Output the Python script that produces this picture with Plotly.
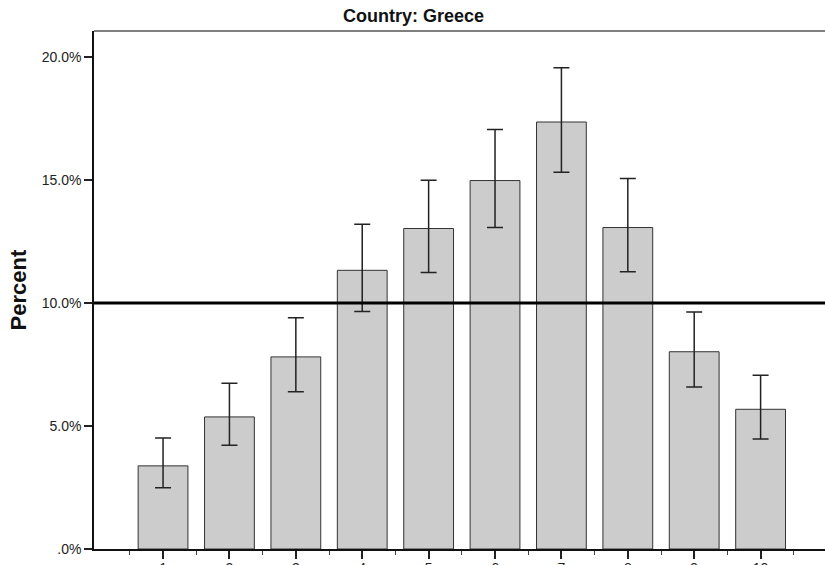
import plotly.graph_objects as go

# Share of respondents per scale point (1-10), with 95% confidence limits
categories = [1, 2, 3, 4, 5, 6, 7, 8, 9, 10]
percent = [3.38, 5.37, 7.81, 11.33, 13.03, 14.98, 17.36, 13.07, 8.02, 5.68]
ci_upper = [4.51, 6.74, 9.40, 13.20, 14.99, 17.06, 19.57, 15.06, 9.64, 7.06]
ci_lower = [2.49, 4.22, 6.39, 9.66, 11.24, 13.07, 15.32, 11.27, 6.59, 4.47]
reference_level = 10.0

y_ticks = [0, 5, 10, 15, 20]
y_tick_labels = [".0%", "5.0%", "10.0%", "15.0%", "20.0%"]
title_text = "Country: Greece"
y_title = "Percent"

err_plus = [u - p for u, p in zip(ci_upper, percent)]
err_minus = [p - l for p, l in zip(percent, ci_lower)]

fig = go.Figure()
fig.add_trace(go.Bar(
    x=categories,
    y=percent,
    width=0.75,
    marker=dict(color="#cccccc", line=dict(color="#333333", width=1)),
    error_y=dict(type="data", symmetric=False, array=err_plus, arrayminus=err_minus,
                 color="#222222", thickness=1.5, width=8),
    showlegend=False,
    hoverinfo="skip",
))

font_family = "Liberation Sans, Arial, sans-serif"

fig.update_layout(
    width=825,
    height=565,
    margin=dict(l=94, r=0, t=31, b=16, autoexpand=False),
    paper_bgcolor="white",
    plot_bgcolor="white",
    font=dict(family=font_family, color="#222222", size=14),
    xaxis=dict(
        range=[-0.04, 10.97],
        automargin=False,
        tickmode="array",
        tickvals=categories,
        ticktext=[str(c) for c in categories],
        ticks="outside",
        ticklen=8,
        tickwidth=1.5,
        tickcolor="#222222",
        ticklabelstandoff=-3,
        showline=True,
        linecolor="#111111",
        linewidth=1.5,
        showgrid=False,
        zeroline=False,
        tickfont=dict(size=14, family=font_family, color="#222222"),
        minor=dict(tickmode="array", tickvals=[c - 0.5 for c in categories] + [10.5],
                   ticks="outside", ticklen=4, tickwidth=1, tickcolor="#444444",
                   showgrid=False),
    ),
    yaxis=dict(
        range=[0, 21.06],
        automargin=False,
        tickmode="array",
        tickvals=y_ticks,
        ticktext=y_tick_labels,
        ticks="outside",
        ticklen=8,
        tickwidth=1.5,
        tickcolor="#222222",
        showline=True,
        linecolor="#111111",
        linewidth=1.5,
        showgrid=False,
        zeroline=False,
        tickfont=dict(size=14, family=font_family, color="#222222"),
    ),
    shapes=[
        # frame top edge
        dict(type="line", xref="paper", yref="paper", x0=0, x1=1, y0=1, y1=1,
             line=dict(color="#7f7f7f", width=2), layer="above"),
        # reference line
        dict(type="line", xref="paper", yref="y", x0=0, x1=1,
             y0=reference_level, y1=reference_level,
             line=dict(color="#000000", width=3), layer="above"),
    ],
    annotations=[
        dict(text="<b>" + title_text + "</b>", xref="paper", yref="paper",
             x=(413 - 94) / 731, y=1, yshift=15, xanchor="center", yanchor="middle",
             showarrow=False, font=dict(size=18, family=font_family, color="#111111")),
        dict(text="<b>" + y_title + "</b>", xref="paper", yref="paper",
             x=0, xshift=-76, y=(549 - 290.5) / 518, xanchor="center", yanchor="middle",
             textangle=-90, showarrow=False,
             font=dict(size=22, family=font_family, color="#111111")),
    ],
)

fig.write_html("out.html")
